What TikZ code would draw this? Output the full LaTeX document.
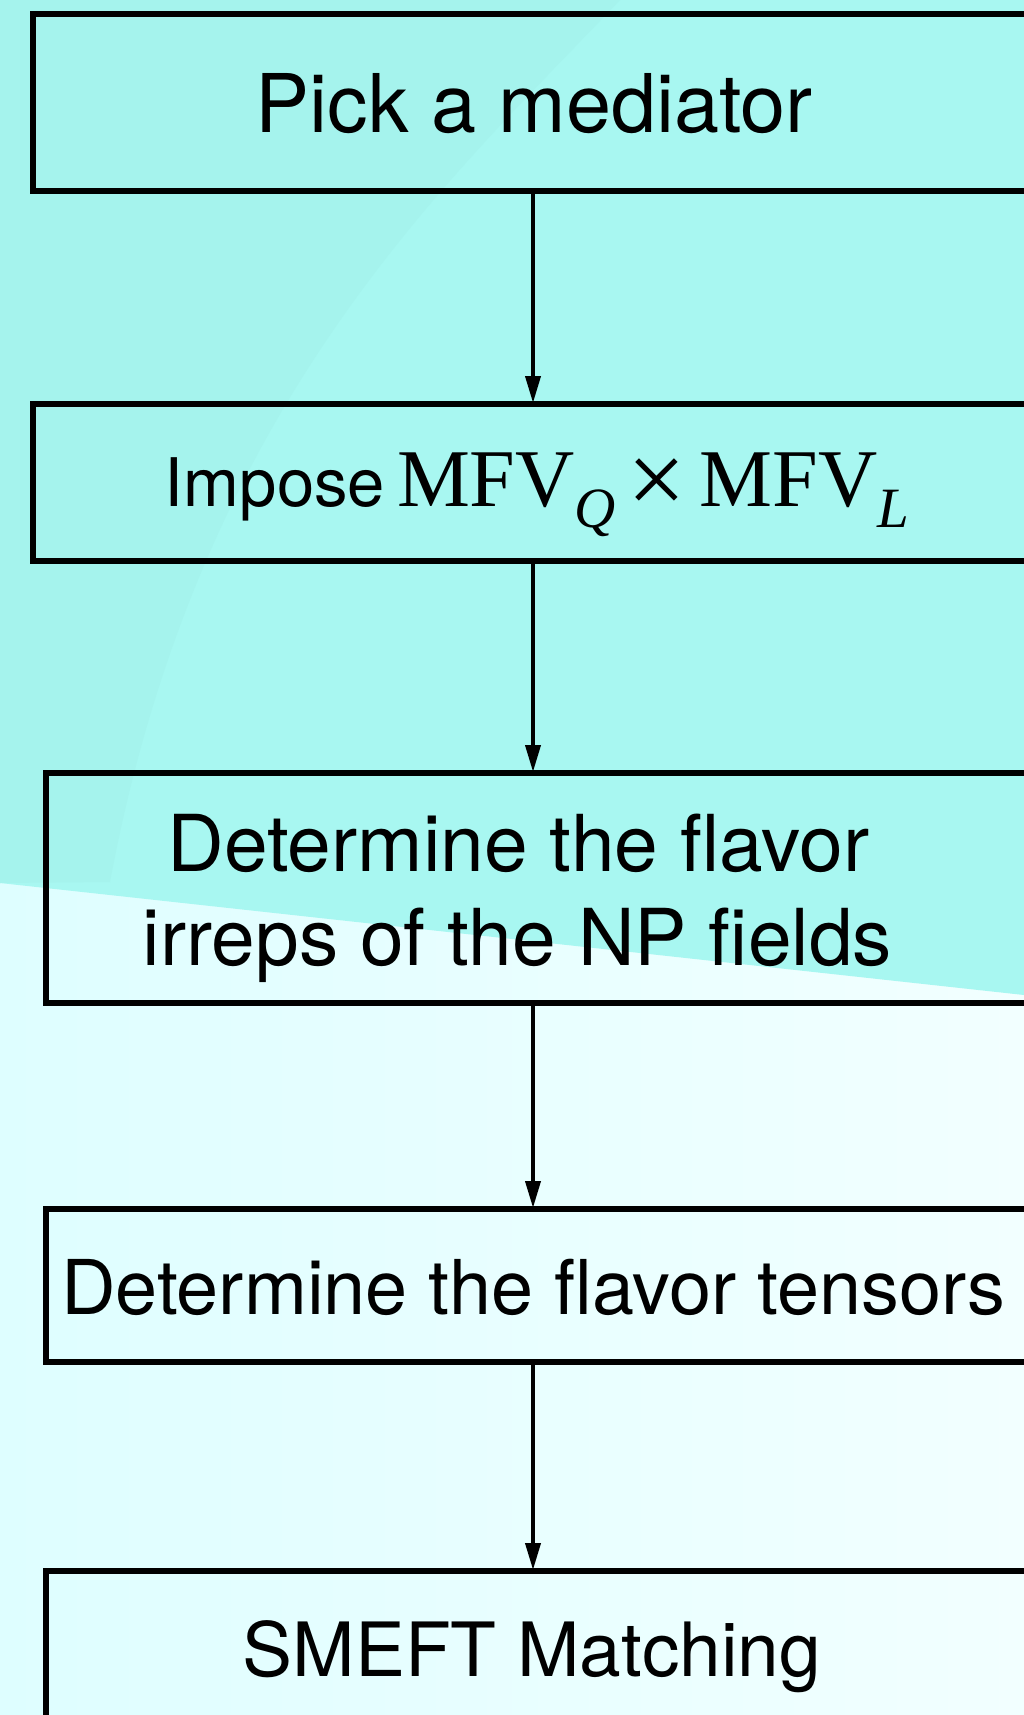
\documentclass[tikz,border=0pt]{standalone}
\usepackage{fontspec}
\setmainfont{TeX Gyre Heros}
\newfontfamily\tms{Liberation Serif}
\usetikzlibrary{arrows.meta}
\definecolor{aqua}{RGB}{168,247,241}
\definecolor{aquadark}{RGB}{165,243,237}
\definecolor{lightA}{RGB}{222,254,255}
\definecolor{lightB}{RGB}{242,255,255}
\begin{document}
\begin{tikzpicture}[x=1pt,y=-1pt,
  box/.style={draw=black,line width=5.5pt,rectangle,inner sep=0pt,outer sep=0pt,anchor=north west},
  lbl/.style={anchor=base,inner sep=0pt,text=black},
  arr/.style={line width=3.8pt,-{Triangle[length=27pt,width=15pt]},shorten >=1pt}]
\useasboundingbox (0,0) rectangle (1024,1715);
\clip (0,0) rectangle (1024,1715);
% background
\shade[left color=lightA,right color=lightB] (0,0) rectangle (1024,1715);
\fill[aqua] (0,0) -- (1024,0) -- (1024,995) -- (0,883) -- cycle;
\fill[aquadark] (0,0) -- (620,0) .. controls (450,180) and (200,400) .. (110,882) -- (0,883) -- cycle;
% boxes
\node[box,minimum width=1010pt,minimum height=177pt] (b1) at (33,14) {};
\node[box,minimum width=1010pt,minimum height=157pt] (b2) at (33,404) {};
\node[box,minimum width=1000pt,minimum height=230pt] (b3) at (46,773) {};
\node[box,minimum width=1000pt,minimum height=153pt] (b4) at (46,1209) {};
\node[box,minimum width=1000pt,minimum height=200pt] (b5) at (46,1571) {};
% labels
\node[lbl,font=\fontsize{81}{90}\selectfont] (t1) at (534,133) {Pick a mediator};
\node[lbl] (t2) at (537,506) {{\fontsize{67}{75}\selectfont Impose}\hspace{12pt}{\tms\fontsize{82}{90}\selectfont MFV\raisebox{-21pt}{\fontsize{57}{60}\selectfont\itshape Q}\hspace{12pt}\raisebox{-8pt}{\fontsize{104}{110}\selectfont ×}\hspace{13pt}MFV\raisebox{-21pt}{\fontsize{57}{60}\selectfont\itshape L}}};
\node[lbl,font=\fontsize{78.5}{90}\selectfont] (t3a) at (518.5,871) {Determine the flavor};
\node[lbl,font=\fontsize{78.5}{90}\selectfont] (t3b) at (517.5,965) {irreps of the NP fields};
\node[lbl,font=\fontsize{75.6}{90}\selectfont] (t4) at (533,1314) {Determine the flavor tensors};
\node[lbl,font=\fontsize{74.9}{90}\selectfont] (t5) at (532,1676) {SMEFT Matching};
% connectors
\coordinate (ax) at (533,0);
\draw[arr] (b1.south -| ax) -- (b2.north -| ax);
\draw[arr] (b2.south -| ax) -- (b3.north -| ax);
\draw[arr] (b3.south -| ax) -- (b4.north -| ax);
\draw[arr] (b4.south -| ax) -- (b5.north -| ax);
\end{tikzpicture}
\end{document}
